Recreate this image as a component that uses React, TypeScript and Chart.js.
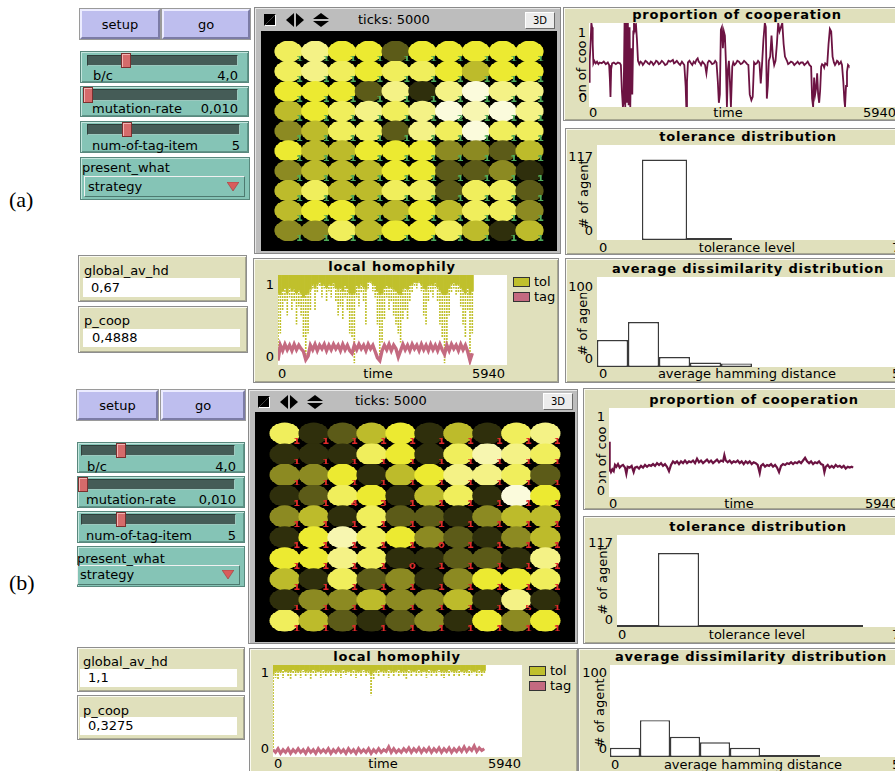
import React, { useEffect, useRef } from "react";
import { Chart, registerables } from "chart.js";

Chart.register(...registerables);

const FONT = '"DejaVu Sans", sans-serif';
const TICK_MAX = 5940;
const SAMPLE_STEP = 60;

const MAROON = "#6c1342";
const OLIVE = "#c0c02c";
const PINK = "#c46a80";

// NetLogo yellow shades 41..49
const YELLOW_SHADES = ["#2f2f0c", "#5c5b18", "#8c8a22", "#bdbb2b", "#ecea31", "#f0ee5c", "#f4f286", "#f7f6b0", "#fbfbdc"];

// ---- proportion of cooperation: [tick, fraction] ----
const coopA: [number, number][] = [
  [0, 0.3], [13, 0.55], [26, 0.7], [46, 1.0], [59, 0.95], [72, 0.75], [85, 0.52], [104, 0.55], [130, 0.52], [156, 0.54],
  [182, 0.51], [208, 0.53], [247, 0.52], [287, 0.54], [326, 0.51], [365, 0.53], [391, 0.5], [404, 0.35], [417, 0.12], [430, 0.45],
  [449, 0.52], [482, 0.53], [521, 0.51], [560, 0.53], [599, 0.52], [619, 0.5], [638, 0.2], [658, 0.0], [671, 0.05], [690, 1.0],
  [704, 0.0], [723, 1.0], [736, 0.05], [755, 1.0], [769, 0.02], [788, 0.95], [801, 0.0], [821, 0.7], [840, 0.15], [860, 0.9],
  [873, 1.0], [892, 0.92], [912, 0.98], [931, 0.8], [951, 0.55], [977, 0.51], [1000, 0.54], [1023, 0.53], [1045, 0.5], [1068, 0.52],
  [1095, 0.55], [1120, 0.54], [1145, 0.52], [1172, 0.51], [1200, 0.54], [1224, 0.53], [1250, 0.5], [1277, 0.52], [1303, 0.55],
  [1329, 0.54], [1355, 0.51], [1381, 0.52], [1414, 0.55], [1446, 0.53], [1478, 0.5], [1511, 0.51], [1543, 0.55], [1576, 0.54],
  [1628, 0.56], [1650, 0.52], [1674, 0.53], [1705, 0.55], [1739, 0.52], [1770, 0.5], [1804, 0.54], [1850, 0.5], [1876, 0.25],
  [1889, 0.0], [1902, 0.3], [1921, 0.53], [1950, 0.55], [1980, 0.52], [2005, 0.5], [2032, 0.54], [2060, 0.52], [2084, 0.56],
  [2110, 0.58], [2130, 0.54], [2149, 0.53], [2175, 0.5], [2201, 0.54], [2230, 0.52], [2253, 0.5], [2279, 0.4], [2306, 0.53],
  [2330, 0.55], [2358, 0.54], [2390, 0.51], [2423, 0.52], [2450, 0.55], [2475, 0.53], [2501, 0.3], [2521, 0.05], [2540, 0.15],
  [2560, 0.92], [2579, 0.95], [2599, 0.7], [2618, 0.9], [2638, 0.85], [2657, 0.55], [2677, 0.0], [2697, 0.45], [2716, 0.55],
  [2736, 0.3], [2755, 0.0], [2781, 0.48], [2801, 0.53], [2825, 0.5], [2853, 0.52], [2880, 0.55], [2911, 0.54], [2945, 0.51],
  [2976, 0.52], [3010, 0.55], [3042, 0.53], [3070, 0.51], [3094, 0.5], [3120, 0.15], [3152, 0.08], [3178, 0.12], [3204, 0.53],
  [3230, 0.51], [3256, 0.52], [3282, 0.55], [3308, 0.53], [3334, 0.28], [3360, 0.52], [3386, 0.8], [3413, 1.0], [3432, 0.95],
  [3452, 0.1], [3471, 0.25], [3491, 0.55], [3517, 0.6], [3543, 0.85], [3569, 0.6], [3595, 0.5], [3621, 0.55], [3647, 0.75],
  [3673, 1.0], [3699, 0.9], [3725, 0.95], [3752, 1.0], [3778, 0.75], [3804, 0.6], [3843, 0.55], [3865, 0.51], [3888, 0.52],
  [3920, 0.54], [3953, 0.53], [3985, 0.5], [4018, 0.52], [4050, 0.54], [4084, 0.51], [4115, 0.53], [4149, 0.53], [4180, 0.5],
  [4214, 0.52], [4245, 0.54], [4279, 0.5], [4312, 0.48], [4331, 0.1], [4351, 0.0], [4370, 0.35], [4390, 0.15], [4409, 0.22],
  [4429, 0.4], [4448, 0.15], [4468, 0.05], [4487, 0.2], [4507, 0.48], [4525, 0.51], [4546, 0.5], [4565, 0.47], [4585, 0.52],
  [4624, 0.5], [4650, 0.75], [4676, 0.93], [4702, 0.9], [4728, 0.6], [4754, 0.53], [4775, 0.5], [4794, 0.52], [4815, 0.55],
  [4833, 0.54], [4852, 0.51], [4872, 0.52], [4890, 0.54], [4911, 0.5], [4937, 0.3], [4957, 0.08], [4970, 0.0], [4989, 0.25],
  [5008, 0.42], [5028, 0.5], [5041, 0.49],
];

const coopB: [number, number][] = [
  [0, 0.3], [7, 0.62], [20, 0.32], [41, 0.28], [68, 0.31], [96, 0.29], [123, 0.36], [150, 0.34], [184, 0.37], [219, 0.33],
  [253, 0.35], [287, 0.36], [328, 0.33], [355, 0.26], [382, 0.34], [423, 0.33], [464, 0.35], [505, 0.28], [533, 0.33], [574, 0.34],
  [615, 0.32], [656, 0.35], [697, 0.33], [738, 0.36], [779, 0.34], [820, 0.36], [861, 0.35], [902, 0.37], [943, 0.35], [984, 0.38],
  [1025, 0.36], [1065, 0.38], [1106, 0.35], [1147, 0.37], [1188, 0.34], [1229, 0.29], [1270, 0.36], [1311, 0.4], [1352, 0.38],
  [1393, 0.4], [1434, 0.37], [1475, 0.4], [1516, 0.38], [1557, 0.41], [1598, 0.38], [1639, 0.4], [1680, 0.39], [1721, 0.41],
  [1762, 0.38], [1803, 0.43], [1844, 0.39], [1885, 0.41], [1926, 0.38], [1967, 0.4], [2008, 0.42], [2049, 0.39], [2090, 0.41],
  [2131, 0.38], [2172, 0.4], [2213, 0.42], [2254, 0.39], [2295, 0.41], [2336, 0.4], [2363, 0.47], [2391, 0.41], [2431, 0.39],
  [2472, 0.41], [2513, 0.38], [2554, 0.4], [2595, 0.39], [2636, 0.41], [2677, 0.38], [2718, 0.4], [2759, 0.37], [2800, 0.4],
  [2841, 0.38], [2882, 0.4], [2923, 0.37], [2964, 0.39], [3005, 0.38], [3046, 0.36], [3087, 0.27], [3114, 0.35], [3155, 0.37],
  [3196, 0.34], [3237, 0.36], [3278, 0.35], [3319, 0.37], [3360, 0.34], [3401, 0.36], [3442, 0.33], [3483, 0.28], [3524, 0.35],
  [3565, 0.37], [3606, 0.36], [3647, 0.38], [3688, 0.37], [3729, 0.39], [3770, 0.37], [3811, 0.39], [3852, 0.38], [3893, 0.4],
  [3934, 0.38], [3975, 0.41], [4016, 0.44], [4057, 0.4], [4098, 0.38], [4139, 0.4], [4180, 0.37], [4221, 0.39], [4262, 0.38],
  [4303, 0.4], [4344, 0.37], [4385, 0.36], [4412, 0.28], [4440, 0.34], [4480, 0.36], [4521, 0.33], [4562, 0.35], [4603, 0.33],
  [4644, 0.36], [4685, 0.34], [4726, 0.35], [4767, 0.33], [4808, 0.35], [4849, 0.32], [4890, 0.34], [4931, 0.33], [4972, 0.34],
  [5000, 0.33],
];

// ---- local homophily, one reading per SAMPLE_STEP ticks ----
// tol: solid band [band, 1] plus sparse readings down to the low value; tag: mean value
const tolBandA = [
  0.8, 0.78, 0.82, 0.85, 0.8, 0.86, 0.82, 0.84, 0.8, 0.83,
  0.8, 0.75, 0.78, 0.8, 0.84, 0.9, 0.86, 0.9, 0.92, 0.88,
  0.9, 0.86, 0.9, 0.88, 0.91, 0.86, 0.84, 0.86, 0.82, 0.88,
  0.85, 0.8, 0.78, 0.8, 0.88, 0.86, 0.9, 0.87, 0.84, 0.92,
  0.93, 0.9, 0.88, 0.82, 0.78, 0.8, 0.85, 0.88, 0.86, 0.87,
  0.84, 0.82, 0.8, 0.78, 0.84, 0.86, 0.84, 0.88, 0.9, 0.92,
  0.91, 0.93, 0.9, 0.85, 0.84, 0.88, 0.9, 0.88, 0.91, 0.87,
  0.83, 0.8, 0.78, 0.8, 0.85, 0.9, 0.91, 0.89, 0.9, 0.86,
  0.83, 0.8, 0.85, 0.78, 0.82,
];
const tolLowA = [
  0.05, 0.35, 0.6, 0.7, 0.55, 0.75, 0.6, 0.7, 0.45, 0.65,
  0.55, 0.3, 0.1, 0.35, 0.6, 0.85, 0.6, 0.8, 0.88, 0.75,
  0.85, 0.7, 0.82, 0.75, 0.85, 0.7, 0.55, 0.65, 0.5, 0.75,
  0.6, 0.35, 0.3, 0.02, 0.75, 0.65, 0.8, 0.7, 0.45, 0.85,
  0.9, 0.82, 0.75, 0.45, 0.05, 0.25, 0.5, 0.75, 0.6, 0.7,
  0.55, 0.45, 0.35, 0.25, 0.5, 0.6, 0.5, 0.7, 0.8, 0.88,
  0.85, 0.9, 0.82, 0.55, 0.45, 0.7, 0.8, 0.75, 0.85, 0.7,
  0.45, 0.3, 0.02, 0.2, 0.55, 0.8, 0.85, 0.78, 0.8, 0.65,
  0.45, 0.3, 0.6, 0.02, 0.35,
];
const tagA = [
  0.05, 0.22, 0.16, 0.23, 0.17, 0.22, 0.16, 0.23, 0.17, 0.22,
  0.18, 0.15, 0.06, 0.1, 0.22, 0.17, 0.23, 0.16, 0.22, 0.18,
  0.23, 0.16, 0.22, 0.17, 0.23, 0.18, 0.22, 0.16, 0.23, 0.17,
  0.22, 0.16, 0.13, 0.22, 0.17, 0.23, 0.18, 0.22, 0.16, 0.23,
  0.18, 0.22, 0.15, 0.08, 0.05, 0.16, 0.22, 0.17, 0.23, 0.16,
  0.22, 0.18, 0.09, 0.16, 0.23, 0.17, 0.22, 0.16, 0.23, 0.18,
  0.22, 0.16, 0.23, 0.17, 0.22, 0.16, 0.23, 0.17, 0.22, 0.16,
  0.23, 0.17, 0.12, 0.22, 0.16, 0.23, 0.18, 0.22, 0.16, 0.23,
  0.17, 0.22, 0.15, 0.05, 0.13,
];

const tolBandB = [
  0.9, 0.93, 0.94, 0.93, 0.95, 0.93, 0.94, 0.93, 0.95, 0.94,
  0.93, 0.94, 0.95, 0.93, 0.94, 0.93, 0.95, 0.94, 0.93, 0.94,
  0.95, 0.93, 0.94, 0.93, 0.95, 0.94, 0.93, 0.94, 0.95, 0.93,
  0.94, 0.93, 0.95, 0.94, 0.93, 0.94, 0.95, 0.93, 0.94, 0.9,
  0.93, 0.94, 0.95, 0.93, 0.94, 0.93, 0.95, 0.94, 0.93, 0.94,
  0.95, 0.93, 0.94, 0.93, 0.95, 0.94, 0.93, 0.94, 0.95, 0.93,
  0.94, 0.93, 0.95, 0.94, 0.93, 0.94, 0.95, 0.93, 0.94, 0.93,
  0.95, 0.94, 0.93, 0.94, 0.95, 0.93, 0.94, 0.93, 0.95, 0.94,
  0.93, 0.94, 0.95, 0.93, 0.94,
];
const tolLowB = [
  0.08, 0.86, 0.84, 0.9, 0.86, 0.92, 0.88, 0.85, 0.91, 0.87,
  0.9, 0.86, 0.92, 0.88, 0.9, 0.85, 0.91, 0.88, 0.92, 0.86,
  0.9, 0.87, 0.91, 0.88, 0.92, 0.87, 0.9, 0.86, 0.91, 0.89,
  0.92, 0.88, 0.9, 0.86, 0.91, 0.88, 0.92, 0.87, 0.9, 0.67,
  0.84, 0.9, 0.87, 0.92, 0.88, 0.9, 0.86, 0.91, 0.88, 0.92,
  0.87, 0.9, 0.88, 0.85, 0.91, 0.88, 0.92, 0.87, 0.9, 0.88,
  0.92, 0.86, 0.9, 0.88, 0.91, 0.87, 0.92, 0.88, 0.86, 0.9,
  0.88, 0.92, 0.87, 0.9, 0.88, 0.92, 0.89, 0.91, 0.87, 0.9,
  0.92, 0.88, 0.9, 0.87, 0.91,
];
const tagB = [
  0.08, 0.05, 0.09, 0.04, 0.08, 0.05, 0.09, 0.04, 0.08, 0.05,
  0.09, 0.05, 0.08, 0.04, 0.09, 0.05, 0.08, 0.04, 0.09, 0.05,
  0.08, 0.05, 0.09, 0.04, 0.08, 0.05, 0.09, 0.05, 0.08, 0.04,
  0.09, 0.05, 0.08, 0.04, 0.09, 0.05, 0.08, 0.05, 0.09, 0.04,
  0.08, 0.05, 0.09, 0.05, 0.08, 0.06, 0.11, 0.05, 0.09, 0.05,
  0.08, 0.05, 0.09, 0.06, 0.1, 0.05, 0.09, 0.06, 0.1, 0.05,
  0.09, 0.06, 0.1, 0.05, 0.09, 0.06, 0.1, 0.05, 0.09, 0.06,
  0.1, 0.05, 0.09, 0.06, 0.1, 0.06, 0.11, 0.06, 0.1, 0.07,
  0.12, 0.06, 0.1, 0.07, 0.09,
];

// ---- histograms (agent counts per bin) ----
const tolHistA = [null, 99, 1, null, null, null, null];
const tolHistB = [2, 94, 1, 1, 1, 1, null];
const dissimHistA = [30, 50, 11, 5, 4, null, null, null, null, null];
const dissimHistB = [10, 40, 22, 16, 10, 1, 1, null, null, null];

// ---- world: shade digit d -> yellow 40+d, and tolerance labels ----
const shadeRowsA = [
  "6755255555", "6765665455", "5552717977", "4567679897", "3466276966",
  "5445553324", "3444552231", "4644662662", "4554454663", "3364556414",
];
const labelRowsA = [
  "1111111111", "1111111111", "1111111111", "1111112111", "1111111111",
  "1111111111", "1111111111", "1111111111", "1111111111", "1111111111",
];
const shadeRowsB = [
  "6124514167", "1116516876", "3351457762", "1265146195", "3416221344",
  "1586532134", "5576112217", "4162313556", "1334334171", "6421231535",
];
const labelRowsB = [
  "1111111111", "1111111111", "1111111111", "1143111111", "1111111111",
  "1111101111", "1111011111", "1111111111", "1111111151", "1111111111",
];

const BASE = {
  animation: false,
  responsive: true,
  maintainAspectRatio: false,
  events: [],
  layout: { padding: 0 },
  plugins: { legend: { display: false }, tooltip: { enabled: false } },
};

function ChartBox({ x, y, w, h, make, bg = "#fff", style = {} }: any) {
  const ref = useRef<HTMLCanvasElement>(null);
  useEffect(() => {
    const cv = ref.current!;
    const chart = new Chart(cv, make(cv.getContext("2d")));
    return () => chart.destroy();
  }, []);
  return (
    <div style={{ position: "absolute", left: x, top: y, width: w, height: h, background: bg, ...style }}>
      <canvas ref={ref} />
    </div>
  );
}

function T({ x, y, children, align = "left", bold = false, size = 13, spacing = 0, font = FONT, color = "#000" }: any) {
  const tx = align === "center" ? "-50%" : align === "right" ? "-100%" : "0";
  return (
    <div
      style={{
        position: "absolute", left: x, top: y, transform: `translate(${tx},-50%)`, whiteSpace: "nowrap",
        fontSize: size, fontWeight: bold ? 700 : 400, letterSpacing: spacing, lineHeight: 1.15, fontFamily: font, color,
      }}
    >
      {children}
    </div>
  );
}

// rotated axis title, clipped to a box; shift moves the text along its length (positive = towards the top)
function RotLabel({ cx, cy, clipH, text, shift = 0 }: any) {
  return (
    <div style={{ position: "absolute", left: cx - 8, top: cy - clipH / 2, width: 16, height: clipH, overflow: "hidden" }}>
      <div
        style={{
          position: "absolute", left: 8, top: clipH / 2 - shift, transform: "translate(-50%,-50%) rotate(-90deg)",
          whiteSpace: "nowrap", fontSize: 13, lineHeight: 1, fontFamily: FONT,
        }}
      >
        {text}
      </div>
    </div>
  );
}

const FRAME: any = {
  position: "absolute", boxSizing: "border-box", background: "#e0e0bc", border: "1px solid #8e8e8e",
  boxShadow: "inset 1px 1px 0 #fafaf0, inset -1px -1px 0 #a8a890",
};

function Plot({ frame, area, title, titleCx, titleY, texts, yTitle, make }: any) {
  return (
    <>
      <div style={{ ...FRAME, left: frame[0], top: frame[1], width: frame[2], height: frame[3] }} />
      <T x={titleCx} y={titleY} align="center" bold spacing={0.8}>{title}</T>
      {texts.map((t: any, i: number) => (
        <T key={i} x={t[0]} y={t[1]} align={t[3] || "left"}>{t[2]}</T>
      ))}
      {yTitle && <RotLabel cx={yTitle[0]} cy={yTitle[1]} clipH={yTitle[2]} text={yTitle[3]} shift={yTitle[4] || 0} />}
      <ChartBox x={area[0]} y={area[1]} w={area[2]} h={area[3]} make={make} />
    </>
  );
}

const lineMake = (pairs: [number, number][], width: number) => () => ({
  type: "line",
  data: {
    datasets: [{
      data: pairs.map(([t, v]) => ({ x: t, y: v })), borderColor: MAROON, borderWidth: width,
      pointRadius: 0, tension: 0, fill: false,
    }],
  },
  options: {
    ...BASE,
    scales: {
      x: { type: "linear", min: 0, max: TICK_MAX, display: false },
      y: { type: "linear", min: 0, max: 1, display: false },
    },
  },
});

const histMake = (bins: (number | null)[], binW: number, xMax: number, yMax: number) => () => ({
  type: "bar",
  data: {
    datasets: [{
      data: bins.map((v, i) => ({ x: binW * (i + 0.5), y: v })).filter((p) => p.y !== null),
      backgroundColor: "#fff", borderColor: "#3a3a3a", borderWidth: 1.4, borderSkipped: false,
      barPercentage: 1, categoryPercentage: 1, minBarLength: 2, inflateAmount: 0,
    }],
  },
  options: {
    ...BASE,
    scales: {
      x: { type: "linear", min: 0, max: xMax, display: false, offset: false },
      y: { type: "linear", min: 0, max: yMax, display: false },
    },
  },
});

const homMake = (band: number[], low: number[], tag: number[], tagWidth: number) => (ctx: CanvasRenderingContext2D) => {
  // vertical dotted columns for the sparse tol readings
  const tile = document.createElement("canvas");
  tile.width = 1;
  tile.height = 3;
  const tg = tile.getContext("2d")!;
  tg.fillStyle = OLIVE;
  tg.fillRect(0, 0, 1, 2);
  const dots = ctx.createPattern(tile, "repeat");
  const xs = band.map((_, i) => i * SAMPLE_STEP);
  return {
    type: "bar",
    data: {
      datasets: [
        {
          type: "bar", data: band.map((b, i) => ({ x: xs[i], y: [b, 1] })), backgroundColor: OLIVE,
          grouped: false, barPercentage: 1, categoryPercentage: 1, order: 2,
        },
        {
          type: "bar", data: low.map((l, i) => ({ x: xs[i], y: [l, band[i]] })), backgroundColor: dots,
          grouped: false, barPercentage: 0.7, categoryPercentage: 1, inflateAmount: 0, order: 1,
        },
        {
          type: "line", data: tag.map((v, i) => ({ x: xs[i], y: v })), borderColor: PINK, borderWidth: tagWidth,
          pointRadius: 0, tension: 0, order: 0,
        },
      ],
    },
    options: {
      ...BASE,
      scales: {
        x: { type: "linear", min: 0, max: TICK_MAX, display: false, offset: false },
        y: { type: "linear", min: 0, max: 1, display: false },
      },
    },
  };
};

const worldMake = (shades: string[], labels: string[], labelColor: string, radius: number, lx: number, ly: number) => () => {
  const pts: any[] = [];
  const colors: string[] = [];
  const texts: string[] = [];
  shades.forEach((row, r) =>
    row.split("").forEach((d, c) => {
      pts.push({ x: c, y: r });
      colors.push(YELLOW_SHADES[Number(d) - 1]);
      texts.push(labels[r][c]);
    })
  );
  return {
    type: "scatter",
    data: {
      datasets: [{
        data: pts, pointRadius: radius, pointBackgroundColor: colors, pointBorderWidth: 0,
        pointBorderColor: "rgba(0,0,0,0)", clip: false,
      }],
    },
    options: {
      ...BASE,
      scales: {
        x: { type: "linear", min: -0.5, max: 9.5, display: false },
        y: { type: "linear", min: -0.5, max: 9.5, reverse: true, display: false },
      },
    },
    plugins: [{
      id: "agentLabels",
      afterDatasetsDraw(chart: any) {
        const g = chart.ctx;
        const meta = chart.getDatasetMeta(0);
        g.save();
        g.fillStyle = labelColor;
        g.font = "bold 10px " + FONT;
        g.textAlign = "center";
        g.textBaseline = "middle";
        meta.data.forEach((p: any, i: number) => g.fillText(texts[i], p.x + lx, p.y + ly));
        g.restore();
      },
    }],
  };
};

function Btn({ x, y, w, h, label }: any) {
  return (
    <div
      style={{
        position: "absolute", left: x, top: y, width: w, height: h, boxSizing: "border-box", background: "#bebeee",
        border: "2px solid", borderColor: "#ececff #7c7ca6 #7c7ca6 #ececff", outline: "1px solid #9a9a9a",
        display: "flex", alignItems: "center", justifyContent: "center", fontSize: 13, fontFamily: FONT,
      }}
    >
      {label}
    </div>
  );
}

function Slider({ box, track, hx, label, lx, ly, value, vr }: any) {
  return (
    <>
      <div
        style={{
          position: "absolute", left: box[0], top: box[1], width: box[2], height: box[3], boxSizing: "border-box",
          background: "#85c4b6", border: "1px solid #58887d", boxShadow: "inset 1px 1px 0 #c4e6de, inset -1px -1px 0 #5f9488",
        }}
      />
      <div
        style={{
          position: "absolute", left: track[0], top: track[1], width: track[2], height: track[3], boxSizing: "border-box",
          background: "#455c57", border: "1px solid #2e3e3a", borderBottomColor: "#9cc9bf", borderRightColor: "#9cc9bf",
        }}
      />
      <div
        style={{
          position: "absolute", left: hx, top: track[1] - 2, width: 10, height: track[3] + 4, boxSizing: "border-box",
          background: "#d56b6b", border: "1px solid #7a3030", boxShadow: "inset 1px 1px 0 #f4b4b4",
        }}
      />
      <T x={lx} y={ly}>{label}</T>
      <T x={vr} y={ly} align="right">{value}</T>
    </>
  );
}

function Chooser({ box, lx, ly, inner, tx, ty }: any) {
  return (
    <>
      <div
        style={{
          position: "absolute", left: box[0], top: box[1], width: box[2], height: box[3], boxSizing: "border-box",
          background: "#85c4b6", border: "1px solid #58887d", boxShadow: "inset 1px 1px 0 #c4e6de",
        }}
      />
      <div
        style={{
          position: "absolute", left: inner[0], top: inner[1], width: inner[2], height: inner[3], boxSizing: "border-box",
          background: "#85c4b6", border: "1px solid", borderColor: "#f0f0f0 #4d7a70 #4d7a70 #f0f0f0",
        }}
      />
      <T x={lx} y={ly}>present_what</T>
      <T x={tx} y={ty}>strategy</T>
      <svg style={{ position: "absolute", left: inner[0] + inner[2] - 18, top: inner[1] + inner[3] / 2 - 5 }} width="12" height="10">
        <polygon points="0,0 12,0 6,9" fill="#d85c5c" stroke="#9a3a3a" strokeWidth="0.6" />
      </svg>
    </>
  );
}

function Monitor({ box, label, lx, ly, inner, value, vx }: any) {
  return (
    <>
      <div
        style={{
          position: "absolute", left: box[0], top: box[1], width: box[2], height: box[3], boxSizing: "border-box",
          background: "#e0e0bc", border: "1px solid #8e8e8e", boxShadow: "inset 1px 1px 0 #fafaf0, inset -1px -1px 0 #a8a890",
        }}
      />
      <div style={{ position: "absolute", left: inner[0], top: inner[1], width: inner[2], height: inner[3], background: "#fff" }} />
      <T x={lx} y={ly}>{label}</T>
      <T x={vx} y={inner[1] + inner[3] / 2}>{value}</T>
    </>
  );
}

function ViewIcons({ x, y }: any) {
  return (
    <svg style={{ position: "absolute", left: x, top: y }} width="72" height="14">
      <rect x="0" y="1" width="12" height="12" fill="#000" />
      <polygon points="12,1 12,13 0,13" fill="#fff" />
      <polygon points="1,12 11,2 11,12" fill="#000" />
      <polygon points="22,7 30,0 30,14" fill="#000" />
      <polygon points="40,7 32,0 32,14" fill="#000" />
      <polygon points="57,0 65,6 49,6" fill="#000" />
      <polygon points="57,14 65,8 49,8" fill="#000" />
    </svg>
  );
}

function World({ frame, icons, ticksX, ticksY, btn, area, canvasW, shades, labels, labelColor, radius, lx, ly }: any) {
  const scale = area[3] / canvasW;
  return (
    <>
      <div
        style={{
          position: "absolute", left: frame[0], top: frame[1], width: frame[2], height: frame[3], boxSizing: "border-box",
          background: "#bdbdbd", border: "1px solid #8a8a8a", boxShadow: "inset 1px 1px 0 #e8e8e8",
        }}
      />
      <ViewIcons x={icons[0]} y={icons[1]} />
      <T x={ticksX} y={ticksY}>ticks: 5000</T>
      <div
        style={{
          position: "absolute", left: btn[0], top: btn[1], width: btn[2], height: btn[3], boxSizing: "border-box",
          background: "#ececec", border: "1px solid", borderColor: "#ffffff #6a6a6a #6a6a6a #ffffff",
          display: "flex", alignItems: "center", justifyContent: "center", fontSize: 10, fontFamily: FONT,
        }}
      >
        3D
      </div>
      <div style={{ position: "absolute", left: area[0], top: area[1], width: area[2], height: area[3], background: "#000", overflow: "hidden" }}>
        <ChartBox
          x={0} y={0} w={area[2]} h={canvasW} bg="#000"
          style={{ transform: `scaleY(${scale})`, transformOrigin: "0 0" }}
          make={worldMake(shades, labels, labelColor, radius, lx, ly)}
        />
      </div>
    </>
  );
}

function Legend({ x, y }: any) {
  return (
    <>
      <div style={{ position: "absolute", left: x, top: y, width: 17, height: 10, background: OLIVE, border: "1px solid #333", boxSizing: "border-box" }} />
      <T x={x + 21} y={y + 5}>tol</T>
      <div style={{ position: "absolute", left: x, top: y + 15, width: 17, height: 10, background: PINK, border: "1px solid #333", boxSizing: "border-box" }} />
      <T x={x + 21} y={y + 20}>tag</T>
    </>
  );
}

export default function App() {
  return (
    <div
      style={{
        position: "absolute", left: 0, top: 0, width: 895, height: 771, overflow: "hidden",
        background: "#fff", fontFamily: FONT,
      }}
    >
      <T x={9} y={200} size={22} font='"Liberation Serif", serif'>(a)</T>
      <T x={9} y={583} size={22} font='"Liberation Serif", serif'>(b)</T>

      {/* ---------- run (a) ---------- */}
      <Btn x={80} y={9} w={80} h={30} label="setup" />
      <Btn x={162} y={9} w={88} h={30} label="go" />
      <Slider box={[80, 51, 169, 32]} track={[87, 55, 151, 11]} hx={121} label="b/c" lx={93} ly={76} value="4,0" vr={238} />
      <Slider box={[80, 86, 169, 31]} track={[87, 89, 151, 12]} hx={83} label="mutation-rate" lx={92} ly={109} value="0,010" vr={238} />
      <Slider box={[80, 121, 169, 32]} track={[87, 124, 153, 11]} hx={122} label="num-of-tag-item" lx={92} ly={146} value="5" vr={240} />
      <Chooser box={[80, 157, 170, 43]} lx={82} ly={168} inner={[84, 176, 161, 21]} tx={88} ty={187} />
      <Monitor box={[78, 255, 169, 47]} label="global_av_hd" lx={84} ly={271} inner={[83, 278, 157, 19]} value="0,67" vx={91} />
      <Monitor box={[78, 306, 170, 47]} label="p_coop" lx={84} ly={321} inner={[83, 329, 157, 18]} value="0,4888" vx={92} />

      <World
        frame={[254, 7, 307, 247]} icons={[264, 13]} ticksX={358} ticksY={20} btn={[525, 12, 30, 17]}
        area={[261, 31, 296, 220]} canvasW={296} shades={shadeRowsA} labels={labelRowsA} labelColor="#4fae5a"
        radius={14.1} lx={11} ly={11}
      />

      <Plot
        frame={[563, 7, 345, 114]} area={[589, 23, 306, 84]} title="proportion of cooperation" titleCx={737} titleY={15}
        texts={[[586, 33, "1", "right"], [587, 98, "0", "right"], [589, 113, "0"], [728, 113, "time", "center"], [863, 113, "5940"]]}
        yTitle={[581, 69, 56, "proportion of cooperation"]} make={lineMake(coopA, 1.8)}
      />
      <Plot
        frame={[565, 128, 345, 127]} area={[597, 145, 315, 95]} title="tolerance distribution" titleCx={748} titleY={137}
        texts={[[593, 157, "117", "right"], [593, 231, "0", "right"], [599, 248, "0"], [747, 248, "tolerance level", "center"], [892, 248, "7"]]}
        yTitle={[583, 194, 72, "# of agent"]} make={histMake(tolHistA, 1, 7, 117)}
      />
      <Plot
        frame={[253, 258, 306, 125]} area={[278, 275, 229, 90]} title="local homophily" titleCx={392} titleY={267}
        texts={[[274, 285, "1", "right"], [274, 357, "0", "right"], [278, 374, "0"], [378, 374, "time", "center"], [505, 374, "5940", "right"]]}
        make={homMake(tolBandA, tolLowA, tagA, 3.4)}
      />
      <Legend x={513} y={277} />
      <Plot
        frame={[565, 258, 345, 125]} area={[597, 277, 310, 90]} title="average dissimilarity distribution" titleCx={748} titleY={269}
        texts={[[593, 287, "100", "right"], [593, 359, "0", "right"], [599, 374, "0"], [747, 374, "average hamming distance", "center"], [892, 374, "5"]]}
        yTitle={[582, 324, 62, "# of agent", 3]} make={histMake(dissimHistA, 0.5, 5, 100)}
      />

      {/* ---------- run (b) ---------- */}
      <Btn x={77} y={390} w={81} h={30} label="setup" />
      <Btn x={161} y={390} w={84} h={30} label="go" />
      <Slider box={[77, 442, 168, 31]} track={[81, 445, 154, 11]} hx={116} label="b/c" lx={87} ly={467} value="4,0" vr={236} />
      <Slider box={[77, 476, 168, 32]} track={[81, 479, 154, 11]} hx={78} label="mutation-rate" lx={86} ly={500} value="0,010" vr={236} />
      <Slider box={[77, 511, 168, 32]} track={[81, 514, 155, 11]} hx={116} label="num-of-tag-item" lx={86} ly={536} value="5" vr={236} />
      <Chooser box={[77, 546, 168, 41]} lx={77} ly={559} inner={[77, 565, 163, 20]} tx={80} ty={575} />
      <Monitor box={[77, 647, 168, 45]} label="global_av_hd" lx={83} ly={662} inner={[80, 669, 157, 18]} value="1,1" vx={88} />
      <Monitor box={[77, 695, 168, 45]} label="p_coop" lx={83} ly={711} inner={[80, 717, 157, 18]} value="0,3275" vx={88} />

      <World
        frame={[248, 389, 330, 255]} icons={[258, 395]} ticksX={355} ticksY={401} btn={[543, 393, 30, 17]}
        area={[255, 412, 320, 230]} canvasW={320} shades={shadeRowsB} labels={labelRowsB} labelColor="#e02a2a"
        radius={15.2} lx={12} ly={12}
      />

      <Plot
        frame={[583, 388, 330, 122]} area={[609, 408, 290, 89]} title="proportion of cooperation" titleCx={754} titleY={400}
        texts={[[605, 417, "1", "right"], [605, 491, "0", "right"], [609, 504, "0"], [739, 504, "time", "center"], [865, 504, "5940"]]}
        yTitle={[601, 455, 56, "proportion of cooperation"]} make={lineMake(coopB, 2.2)}
      />
      <Plot
        frame={[583, 516, 330, 128]} area={[617, 535, 287, 92]} title="tolerance distribution" titleCx={758} titleY={527}
        texts={[[613, 543, "117", "right"], [613, 620, "0", "right"], [618, 635, "0"], [757, 635, "tolerance level", "center"], [892, 635, "7"]]}
        yTitle={[602, 580, 72, "# of agent"]} make={histMake(tolHistB, 1, 7, 117)}
      />
      <Plot
        frame={[249, 648, 329, 126]} area={[273, 665, 249, 92]} title="local homophily" titleCx={397} titleY={657}
        texts={[[269, 673, "1", "right"], [269, 749, "0", "right"], [274, 764, "0"], [383, 764, "time", "center"], [521, 764, "5940", "right"]]}
        make={homMake(tolBandB, tolLowB, tagB, 3)}
      />
      <Legend x={529} y={666} />
      <Plot
        frame={[578, 648, 335, 126]} area={[610, 665, 300, 92]} title="average dissimilarity distribution" titleCx={751} titleY={657}
        texts={[[607, 673, "100", "right"], [607, 749, "0", "right"], [611, 765, "0"], [753, 765, "average hamming distance", "center"], [892, 765, "5"]]}
        yTitle={[599, 713, 72, "# of agent"]} make={histMake(dissimHistB, 0.5, 5, 100)}
      />
    </div>
  );
}
